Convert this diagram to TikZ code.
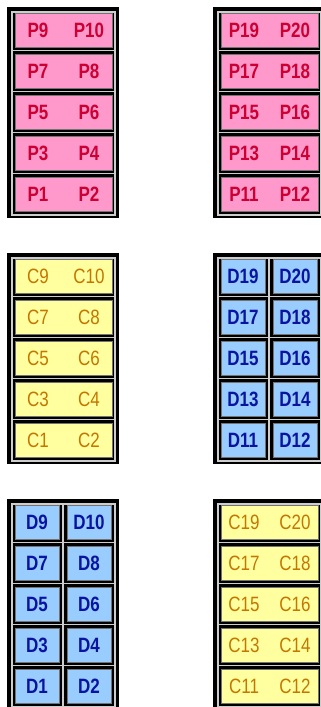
\documentclass[tikz,border=0pt]{standalone}
\usepackage{fontspec}
\setmainfont{Liberation Sans}
\usepackage{graphicx}
\usepackage{tikz}
\usetikzlibrary{calc}
\usepackage{xcolor}
\definecolor{trayPink}{RGB}{255,153,204}
\definecolor{textPink}{RGB}{204,0,51}
\definecolor{trayYellow}{RGB}{255,255,160}
\definecolor{textYellow}{RGB}{196,118,0}
\definecolor{trayBlue}{RGB}{153,204,255}
\definecolor{textBlue}{RGB}{10,20,160}
\definecolor{shelfGray}{RGB}{205,205,205}
\newcommand{\tallname}[1]{\scalebox{1}[1.22]{#1}}

\begin{document}
\begin{tikzpicture}[x=1pt, y=-1pt,
    rackcase/.style={fill=black},
    shelf/.style={draw=shelfGray, line width=1.2pt},
    Ptray/.style={fill=trayPink, draw=black!55, line width=0.6pt},
    Ctray/.style={fill=trayYellow, draw=black!55, line width=0.6pt},
    Dtray/.style={fill=trayBlue, draw=black!55, line width=0.6pt},
    Plabel/.style={text=textPink, inner sep=0pt, font=\fontsize{17}{17}\selectfont\bfseries},
    Clabel/.style={text=textYellow, inner sep=0pt, font=\fontsize{17}{17}\selectfont},
    Dlabel/.style={text=textBlue, inner sep=0pt, font=\fontsize{17}{17}\selectfont\bfseries}]
  \useasboundingbox (0,0) rectangle (321,707);
  \clip (0,0) rectangle (321,707);

  % Racks: black case, light frame and four shelves
  \foreach \rx/\ry in {7/7, 213/7, 7/253, 213/253, 7/499, 213/499} {
    \fill[rackcase] (\rx,\ry) rectangle ++(112,211);
    \draw[shelf] (\rx+5,\ry+5) rectangle (\rx+108,\ry+208);
    \foreach \i in {0,...,3}
      \draw[shelf] (\rx+5,\ry+43.5+41*\i) -- ++(103,0);
  }

  % Wide trays (P and C), two slots each
  \foreach \rx/\ry/\kind/\base in {7/7/P/0, 213/7/P/10, 7/253/C/0, 213/499/C/10} {
    \foreach \i in {0,...,4} {
      \pgfmathtruncatemacro{\odd}{\base+9-2*\i}
      \pgfmathtruncatemacro{\even}{\odd+1}
      \filldraw[\kind tray] (\rx+8,\ry+6+41*\i) rectangle ++(97,34);
      \node[\kind label] (\kind\odd) at (\rx+31,\ry+23+41*\i) {\tallname{\kind\odd}};
      \node[\kind label] (\kind\even) at (\rx+82,\ry+23+41*\i) {\tallname{\kind\even}};
    }
  }

  % Split trays (D), one box per slot
  \foreach \rx/\ry/\base in {213/253/10, 7/499/0} {
    \draw[shelf] (\rx+56,\ry+5) -- ++(0,203);
    \foreach \i in {0,...,4} {
      \pgfmathtruncatemacro{\odd}{\base+9-2*\i}
      \pgfmathtruncatemacro{\even}{\odd+1}
      \filldraw[Dtray] (\rx+8,\ry+6+41*\i) rectangle ++(44,34);
      \filldraw[Dtray] (\rx+60,\ry+6+41*\i) rectangle ++(44,34);
      \node[Dlabel] (D\odd) at (\rx+30,\ry+23+41*\i) {\tallname{D\odd}};
      \node[Dlabel] (D\even) at (\rx+82,\ry+23+41*\i) {\tallname{D\even}};
    }
  }
\end{tikzpicture}
\end{document}
